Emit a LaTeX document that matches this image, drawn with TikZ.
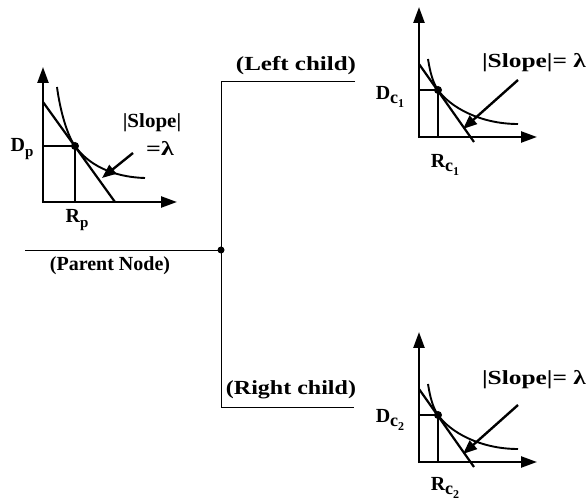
\documentclass[tikz,border=0pt]{standalone}
\usepackage{fontspec}
\setmainfont{Liberation Serif}
\usetikzlibrary{arrows.meta}
\newcommand\mysub[1]{\raisebox{-0.45ex}{\fontsize{15}{15}\selectfont #1}}
\newcommand\mycsub[1]{\raisebox{-0.45ex}{\fontsize{18}{18}\selectfont #1}}
\newcommand\mysubsub[1]{\raisebox{-0.4ex}{\fontsize{12}{12}\selectfont #1}}
\begin{document}
\begin{tikzpicture}[x=1pt,y=-1pt,
  lbl/.style={font=\fontsize{20}{22}\selectfont\bfseries, inner sep=0pt},
  axis/.style={line width=2.4pt,-{Triangle[length=16pt,width=11pt]}},
  thickline/.style={line width=2.2pt},
  curveline/.style={line width=1.9pt},
  tree/.style={line width=0.8pt},
  slopearrow/.style={line width=2.4pt,-{Triangle[length=14pt,width=11pt]}},
  tpdot/.style={circle,fill,inner sep=0pt,minimum size=8pt},
  childplot/.pic={
    \draw[axis] (419,138.2) -- (419,7);
    \draw[axis] (417.8,137) -- (537,137);
    \draw[thickline] (419,64) -- (474,142);
    \draw[curveline] (419,90) -- (438,90) -- (438,137);
    \draw[curveline] (428,59) .. controls (430,72) and (433,83) .. (438,90)
                     .. controls (450,107) and (480,124) .. (518,124);
    \draw[slopearrow] (518,80) -- (463,129);
    \node[tpdot] (-tp) at (438,90) {};
  }]
\useasboundingbox[fill=white] (0,0) rectangle (587,502);

% tree
\coordinate (pstart) at (25,250);
\coordinate (root) at (221,250);
\coordinate (ltop) at (221,81);
\coordinate (lend) at (355,81);
\coordinate (rbot) at (221,407);
\coordinate (rend) at (354,407);
\draw[tree] (pstart) -- (root);
\draw[tree] (lend) -- (ltop) -- (rbot) -- (rend);
\node[tpdot,minimum size=7pt] (rootdot) at (root) {};

\node[lbl,xscale=1.25] (leftlbl) at (296,66) {(Left child)};
\node[lbl,xscale=1.2] (rightlbl) at (291,390) {(Right child)};
\node[lbl] (parentlbl) at (110,266) {(Parent Node)};

% parent plot
\draw[axis] (43,203.2) -- (43,67);
\draw[axis] (41.8,202) -- (177,202);
\draw[thickline] (43,102) -- (115,202);
\draw[curveline] (43,146) -- (75,146) -- (75,202);
\draw[curveline] (57,87) .. controls (60,110) and (67,135) .. (75,146)
                 .. controls (87,163) and (110,177) .. (145,178);
\draw[slopearrow] (133,153) -- (102,178);
\node[tpdot] (ptp) at (75,146) {};
\node[lbl,xscale=1.05] (pslope) at (152,123) {|Slope|};
\node[lbl,xscale=1.3] (plambda) at (160,148) {=λ};
\node[lbl] (dp) at (22,149) {D\mysub{p}};
\node[lbl] (rp) at (77,220) {R\mysub{p}};

% child plots
\pic (lc) at (0,0) {childplot};
\pic (rc) at (0,325) {childplot};
\node[lbl,xscale=1.27] (lslope) at (534,63) {|Slope|= λ};
\node[lbl,xscale=1.27] (rslope) at (534,380) {|Slope|= λ};
\node[lbl] (dc1) at (390,97) {D\mycsub{c\mysubsub{1}}};
\node[lbl] (rc1) at (445,165) {R\mycsub{c\mysubsub{1}}};
\node[lbl] (dc2) at (390,420) {D\mycsub{c\mysubsub{2}}};
\node[lbl] (rc2) at (445,488) {R\mycsub{c\mysubsub{2}}};
\end{tikzpicture}
\end{document}
